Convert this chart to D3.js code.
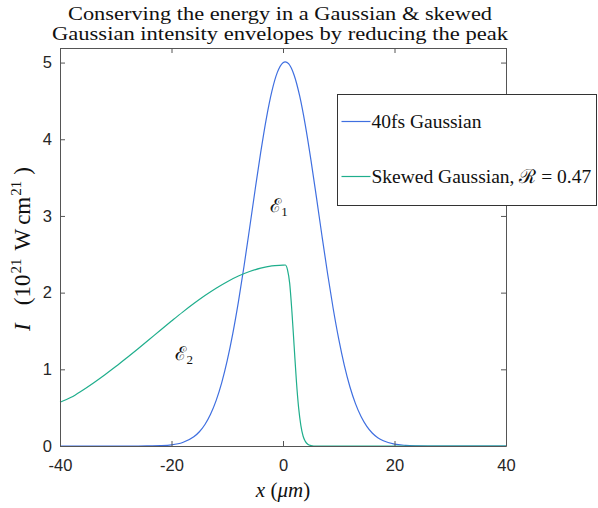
<!DOCTYPE html>
<html>
<head>
<meta charset="utf-8">
<script src="https://cdn.jsdelivr.net/npm/d3@7"></script>
<style>
  body { margin: 0; background: #fff; }
  .tick text { font-family: "Liberation Sans", Arial, sans-serif; font-size: 16.5px; fill: #262626; }
  .serif { font-family: "Liberation Serif", "DejaVu Serif", serif; fill: #111; }
</style>
</head>
<body>
<svg id="chart" width="598" height="508"></svg>
<script>
// 40fs Gaussian (x in um, I in 1e21 W/cm^2)
var gaussX = [-40, -26, -24, -22, -20, -18, -16, -15, -14, -13, -12, -11, -10, -9, -8, -7, -6, -5, -4, -3, -2, -1, 0, 0.4,
  1, 2, 3, 4, 5, 6, 7, 8, 9, 10, 11, 12, 13, 14, 15, 16, 17, 18, 20, 22, 24, 26, 40];
var gaussI = [0, 0, 0.002, 0.005, 0.015, 0.046, 0.12, 0.186, 0.281, 0.414, 0.592, 0.824, 1.116, 1.469, 1.88, 2.341, 2.836, 3.342, 3.828, 4.267, 4.625, 4.875, 4.999, 5.01,
  4.985, 4.835, 4.561, 4.185, 3.734, 3.241, 2.735, 2.246, 1.793, 1.393, 1.052, 0.773, 0.553, 0.384, 0.259, 0.17, 0.109, 0.068, 0.024, 0.008, 0.002, 0, 0];

// skewed Gaussian: long leading edge, sharp fall after the peak
var skewX = [-40, -38, -36, -34, -32, -30, -28, -26, -24, -22, -20, -18, -16, -14, -12, -10, -8, -6, -4, -2, 0, 0.4,
  0.8, 1.2, 1.6, 2.0, 2.4, 2.8, 3.2, 3.6, 4.0, 4.5, 5.0, 5.5, 40];
var skewI = [0.57, 0.635, 0.725, 0.823, 0.927, 1.036, 1.151, 1.269, 1.389, 1.51, 1.629, 1.746, 1.857, 1.962, 2.058, 2.143, 2.216, 2.275, 2.32, 2.348, 2.358, 2.36,
  2.3, 2.12, 1.75, 1.3, 0.85, 0.5, 0.27, 0.13, 0.06, 0.02, 0.006, 0, 0];

var xTicks = [-40, -20, 0, 20, 40];
var yTicks = [0, 1, 2, 3, 4, 5];
var seriesNames = ["40fs Gaussian", "Skewed Gaussian, \u211B = 0.47"];
var seriesColors = ["#3f6fe0", "#1fae8c"];

var svg = d3.select("#chart");
var margin = {top: 48, right: 92, bottom: 62, left: 60};
var width = +svg.attr("width") - margin.left - margin.right;
var height = +svg.attr("height") - margin.top - margin.bottom;

var x = d3.scaleLinear().domain([-40, 40]).range([0, width]);
var y = d3.scaleLinear().domain([0, 5.19]).range([height, 0]);

var g = svg.append("g").attr("transform", "translate(" + margin.left + "," + margin.top + ")");

// the two curves, skewed one drawn on top
var line = d3.line().curve(d3.curveMonotoneX)
  .x(function(d) { return x(d[0]); })
  .y(function(d) { return y(d[1]); });

g.append("path")
  .attr("d", line(d3.zip(gaussX, gaussI)))
  .attr("fill", "none")
  .attr("stroke", seriesColors[0])
  .attr("stroke-width", 1.2);

g.append("path")
  .attr("d", line(d3.zip(skewX, skewI)))
  .attr("fill", "none")
  .attr("stroke", seriesColors[1])
  .attr("stroke-width", 1.2);

// axes, ticks pointing inward on all four sides (matlab box)
// plain String() so negatives get the short hyphen like the original
function styleAxis(sel) {
  sel.select(".domain").attr("stroke", "#555");
  sel.selectAll(".tick line").attr("stroke", "#555");
}
g.append("g").attr("transform", "translate(0," + height + ")")
  .call(d3.axisBottom(x).tickValues(xTicks).tickSizeInner(-5).tickSizeOuter(0).tickPadding(13).tickFormat(String))
  .call(styleAxis);
g.append("g")
  .call(d3.axisTop(x).tickValues(xTicks).tickSizeInner(-5).tickSizeOuter(0).tickFormat(""))
  .call(styleAxis);
g.append("g")
  .call(d3.axisLeft(y).tickValues(yTicks).tickSizeInner(-5).tickSizeOuter(0).tickPadding(8).tickFormat(String))
  .call(styleAxis);
g.append("g").attr("transform", "translate(" + width + ",0)")
  .call(d3.axisRight(y).tickValues(yTicks).tickSizeInner(-5).tickSizeOuter(0).tickFormat(""))
  .call(styleAxis);
g.selectAll(".tick text").attr("font-family", null).attr("font-size", null);

// title
var title = svg.append("text").attr("class", "serif").attr("font-size", 19).attr("text-anchor", "middle");
title.append("tspan").attr("x", 280).attr("y", 20)
  .attr("textLength", 424).attr("lengthAdjust", "spacingAndGlyphs")
  .text("Conserving the energy in a Gaussian & skewed");
title.append("tspan").attr("x", 280).attr("y", 40)
  .attr("textLength", 456).attr("lengthAdjust", "spacingAndGlyphs")
  .text("Gaussian intensity envelopes by reducing the peak");

// x label
var xl = svg.append("text").attr("class", "serif").attr("font-size", 21)
  .attr("text-anchor", "middle").attr("x", margin.left + x(0)).attr("y", 497);
xl.append("tspan").attr("font-style", "italic").text("x");
xl.append("tspan").text(" (");
xl.append("tspan").attr("font-style", "italic").text("\u03BCm");
xl.append("tspan").text(")");

// y label, math-style gaps done with dx
var yl = svg.append("text").attr("class", "serif").attr("font-size", 23)
  .attr("text-anchor", "middle")
  .attr("transform", "translate(30," + (margin.top + height / 2 + 2) + ") rotate(-90)");
yl.append("tspan").attr("font-style", "italic").text("I");
yl.append("tspan").attr("dx", 18).text("(10");
yl.append("tspan").attr("font-size", 15).attr("dx", 1).attr("dy", -9).text("21");
yl.append("tspan").attr("dx", 8).attr("dy", 9).text("W");
yl.append("tspan").attr("dx", 4).text("cm");
yl.append("tspan").attr("font-size", 15).attr("dx", 1).attr("dy", -9).text("21");
yl.append("tspan").attr("dx", 6).attr("dy", 9).text(")");

// energy labels
function energyLabel(xv, yv, sub) {
  var t = g.append("text").attr("class", "serif").attr("font-size", 19)
    .attr("x", x(xv)).attr("y", y(yv));
  t.append("tspan").text("\u2130");
  t.append("tspan").attr("font-size", 13).attr("dy", 4).text(sub);
}
energyLabel(-2.3, 3.05, "1");
energyLabel(-19.3, 1.12, "2");

// legend
var legend = svg.append("g").attr("transform", "translate(337.5,94.5)");
legend.append("rect").attr("width", 259).attr("height", 111)
  .attr("fill", "#fff").attr("stroke", "#333").attr("stroke-width", 1);
seriesNames.forEach(function(name, i) {
  var ly = 27 + i * 55;
  legend.append("line").attr("x1", 4).attr("x2", 33).attr("y1", ly).attr("y2", ly)
    .attr("stroke", seriesColors[i]).attr("stroke-width", 1.2);
  legend.append("text").attr("class", "serif").attr("font-size", 19.5)
    .attr("x", 34).attr("y", ly + 6).text(name);
});
</script>
</body>
</html>
